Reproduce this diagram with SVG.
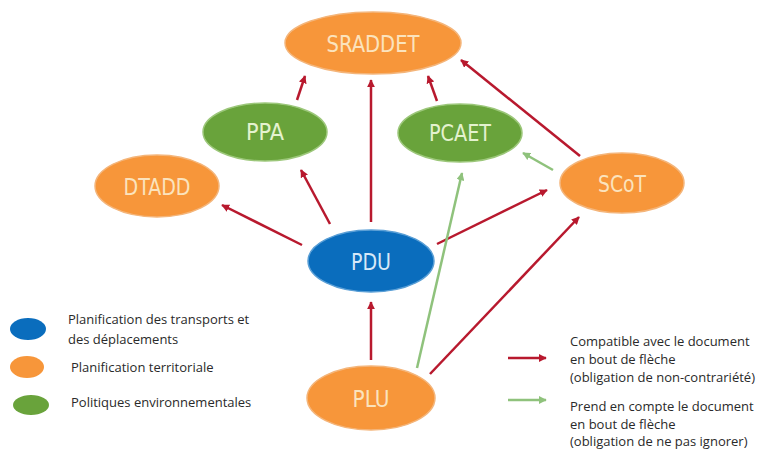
<svg xmlns="http://www.w3.org/2000/svg" width="771" height="451" viewBox="0 0 771 451">
<defs>
<style>
.or{fill:#f7963a;stroke:#f4b57a;stroke-width:1.5}
.gr{fill:#69a33b;stroke:#9cc77a;stroke-width:1.5}
.bl{fill:#0a6dbd;stroke:#5a9fd6;stroke-width:1.5}
.nt{font-family:"DejaVu Sans Condensed","DejaVu Sans",sans-serif;font-size:23px;text-anchor:middle}
.or+.nt{fill:#fbe3bd}
.gr+.nt{fill:#e4f2cf}
.bl+.nt{fill:#d6e8f8}
.red{stroke:#b8192e;stroke-width:2.5;fill:none;marker-end:url(#ar)}
.grn{stroke:#8fc27c;stroke-width:2.5;fill:none;marker-end:url(#ag)}
.lt{font-family:"Open Sans",sans-serif;font-size:13px;fill:#2a2a2a}
</style>
<marker id="ar" viewBox="0 0 10 10" refX="9" refY="5" markerWidth="3.2" markerHeight="3.2" orient="auto"><path d="M0,0L10,5L0,10z" fill="#b8192e"/></marker>
<marker id="ag" viewBox="0 0 10 10" refX="9" refY="5" markerWidth="3.2" markerHeight="3.2" orient="auto"><path d="M0,0L10,5L0,10z" fill="#8fc27c"/></marker>
</defs>
<rect width="771" height="451" fill="#fff"/>
<g id="connectors">
<line class="red" x1="302" y1="245" x2="222" y2="205"/>
<line class="red" x1="330" y1="224" x2="301" y2="170"/>
<line class="red" x1="371" y1="222" x2="371" y2="80"/>
<line class="red" x1="437" y1="244" x2="547" y2="190"/>
<line class="red" x1="297" y1="100" x2="305" y2="76"/>
<line class="red" x1="437" y1="101" x2="428" y2="76"/>
<line class="red" x1="580" y1="156" x2="461" y2="60"/>
<line class="grn" x1="553" y1="170" x2="523" y2="153"/>
<line class="grn" x1="417" y1="368" x2="462" y2="173"/>
<line class="red" x1="371" y1="360" x2="371" y2="302"/>
<line class="red" x1="430" y1="374" x2="579" y2="217"/>
</g>
<g id="SRADDET"><ellipse class="or" cx="373" cy="43" rx="88" ry="31"/><text class="nt" x="373" y="52" textLength="93" lengthAdjust="spacingAndGlyphs">SRADDET</text></g>
<g id="PPA"><ellipse class="gr" cx="265" cy="132" rx="62" ry="29"/><text class="nt" x="265" y="140" textLength="38" lengthAdjust="spacingAndGlyphs">PPA</text></g>
<g id="PCAET"><ellipse class="gr" cx="460" cy="133" rx="62" ry="29"/><text class="nt" x="460" y="141" textLength="62" lengthAdjust="spacingAndGlyphs">PCAET</text></g>
<g id="DTADD"><ellipse class="or" cx="157" cy="186" rx="62" ry="31"/><text class="nt" x="157" y="195" textLength="67" lengthAdjust="spacingAndGlyphs">DTADD</text></g>
<g id="SCoT"><ellipse class="or" cx="622" cy="183" rx="62" ry="30"/><text class="nt" x="622" y="192" textLength="48" lengthAdjust="spacingAndGlyphs">SCoT</text></g>
<g id="PDU"><ellipse class="bl" cx="371" cy="261" rx="63" ry="31"/><text class="nt" x="371" y="270" textLength="40" lengthAdjust="spacingAndGlyphs">PDU</text></g>
<g id="PLU"><ellipse class="or" cx="371" cy="398" rx="64" ry="32"/><text class="nt" x="371" y="407" textLength="37" lengthAdjust="spacingAndGlyphs">PLU</text></g>
<g id="legend">
<ellipse cx="28" cy="329" rx="18" ry="11" fill="#0a6dbd"/>
<ellipse cx="27" cy="367" rx="17" ry="11" fill="#f7963a"/>
<ellipse cx="31" cy="405" rx="18" ry="10" fill="#69a33b"/>
<text class="lt" x="68" y="324">Planification des transports et</text>
<text class="lt" x="68" y="344">des déplacements</text>
<text class="lt" x="71" y="372">Planification territoriale</text>
<text class="lt" x="71" y="407">Politiques environnementales</text>
<line class="red" x1="508" y1="358" x2="546" y2="358"/>
<line class="grn" x1="508" y1="400" x2="546" y2="400"/>
<text class="lt" x="570" y="346">Compatible avec le document</text>
<text class="lt" x="570" y="364">en bout de flèche</text>
<text class="lt" x="570" y="382">(obligation de non-contrariété)</text>
<text class="lt" x="570" y="411">Prend en compte le document</text>
<text class="lt" x="570" y="429">en bout de flèche</text>
<text class="lt" x="570" y="446">(obligation de ne pas ignorer)</text>
</g>
</svg>
